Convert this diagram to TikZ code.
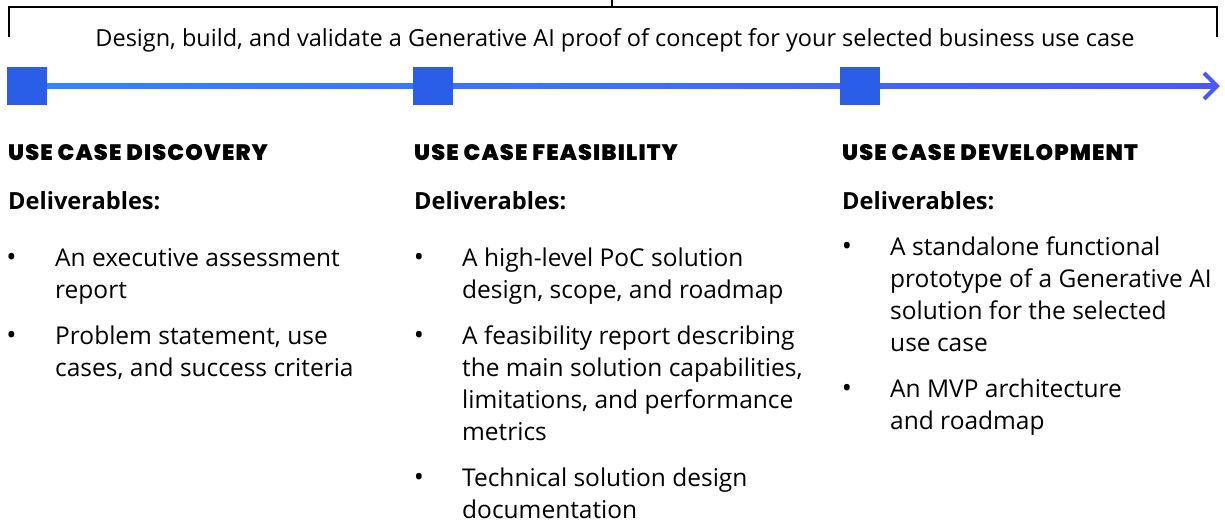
\documentclass[tikz,border=0pt]{standalone}
\usepackage{fontspec}
\setmainfont{Open Sans}
\newfontfamily\headfont{Poppins Black}[LetterSpace=5]
\usetikzlibrary{positioning}

\definecolor{stepblue}{HTML}{2A5EE8}
\definecolor{lineleft}{HTML}{2F86F8}
\definecolor{lineright}{HTML}{4A58F5}

\begin{document}
\begin{tikzpicture}[x=1pt,y=-1pt,
    stepsq/.style={fill=stepblue, minimum width=40pt, minimum height=38pt, inner sep=0pt},
    phase/.style={anchor=base west, inner sep=0pt, font=\headfont\fontsize{22.3}{24}\selectfont},
    deliv/.style={anchor=base west, inner sep=0pt, font=\bfseries\fontsize{23.6}{26}\selectfont},
    item/.style={anchor=north west, inner sep=0pt, align=left, font=\fontsize{24.5}{32}\selectfont},
    dot/.style={anchor=base, inner sep=0pt, font=\fontsize{27}{30}\selectfont}]

    \useasboundingbox (0,0) rectangle (1225,523);

    % constants
    \def\xa{8}
    \def\xb{414}
    \def\xc{842}

    % bracket and goal
    \draw [line width=2pt] (9,37) -- (9,7) -- (1217,7) -- (1217,37);
    \draw [line width=1.5pt] (612,7) -- (612,0);
    \node (goal) [anchor=base, inner sep=0pt, font=\fontsize{23.5}{26}\selectfont] at (615,46) {Design, build, and validate a Generative AI proof of concept for your selected business use case};

    % timeline
    \coordinate (tip) at (1217,86);
    \shade [left color=lineleft, right color=lineright] (40,83.5) rectangle (1214,88.5);
    \draw [lineright, line width=4pt] ([shift={(-13,-13)}]tip) -- (tip) -- ([shift={(-13,13)}]tip);
    \node (disc) [stepsq] at (27,86) {};
    \node (feas) [stepsq] at (433,86) {};
    \node (devl) [stepsq] at (860,86) {};

    % phase titles
    \node (disct) [phase] at (\xa,160) {USE CASE DISCOVERY};
    \node (feast) [phase] at (\xb,160) {USE CASE FEASIBILITY};
    \node (devlt) [phase] at (\xc,160) {USE CASE DEVELOPMENT};

    \node (discd) [deliv] at (\xa,209) {Deliverables:};
    \node (feasd) [deliv] at (\xb,209) {Deliverables:};
    \node (devld) [deliv] at (\xc,209) {Deliverables:};

    % discovery
    \node (da) [item] at (55,243.6) {\strut An executive assessment\\report};
    \node (db) [item] at (55,321.6) {\strut Problem statement, use\\cases, and success criteria};
    \node [dot] at (11.5,266) {•};
    \node [dot] at (11.5,344) {•};

    % feasibility
    \node (fa) [item] at (462,243.6) {\strut A high-level PoC solution\\design, scope, and roadmap};
    \node (fb) [item] at (462,321.6) {\strut A feasibility report describing\\the main solution capabilities,\\limitations, and performance\\metrics};
    \node (fc) [item] at (462,464) {\strut Technical solution design\\documentation};
    \node [dot] at (419,266) {•};
    \node [dot] at (419,344) {•};
    \node [dot] at (419,486.4) {•};

    % development
    \node (va) [item] at (890,232.6) {\strut A standalone functional\\prototype of a Generative AI\\solution for the selected\\use case};
    \node (vb) [item] at (890,374.6) {\strut An MVP architecture\\and roadmap};
    \node [dot] at (847,255) {•};
    \node [dot] at (847,397) {•};

\end{tikzpicture}
\end{document}
